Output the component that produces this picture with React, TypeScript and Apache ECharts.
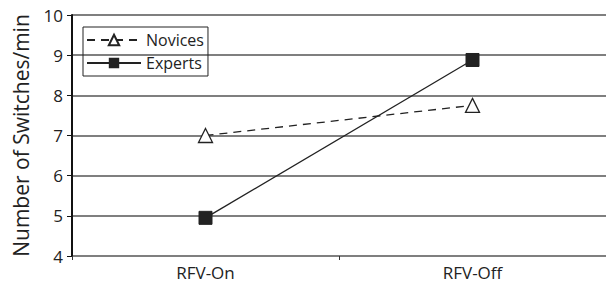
import React, { useEffect, useRef } from "react";
import * as echarts from "echarts";

const categories = ["RFV-On", "RFV-Off"];
const novices = [7.0, 7.75];
const experts = [4.95, 8.88];
const yTitle = "Number of Switches/min";

export default function App() {
  const ref = useRef<HTMLDivElement>(null);
  useEffect(() => {
    document.body.style.margin = "0";
    const chart = echarts.init(ref.current!, null, { renderer: "svg" });
    const font = "'Open Sans', 'Noto Sans', sans-serif";
    chart.setOption({
      animation: false,
      grid: { left: 72, right: -6, top: 15, bottom: 31 },
      legend: {
        orient: "vertical",
        left: 83,
        top: 27,
        itemWidth: 54,
        itemHeight: 13,
        itemGap: 7,
        padding: [5, 4, 5, 3],
        borderColor: "#222",
        borderWidth: 1,
        textStyle: { fontFamily: font, fontSize: 16, color: "#222" },
        data: ["Novices", "Experts"],
      },
      xAxis: {
        type: "category",
        data: categories,
        axisLine: { show: false },
        axisTick: { show: true, interval: 0, length: 4, lineStyle: { color: "#333" } },
        axisLabel: { fontFamily: font, fontSize: 17, color: "#222", margin: 8 },
      },
      yAxis: {
        type: "value",
        min: 4,
        max: 10,
        interval: 1,
        name: yTitle,
        nameLocation: "middle",
        nameGap: 41,
        nameTextStyle: { fontFamily: font, fontSize: 21, color: "#222" },
        axisLine: { show: true, lineStyle: { color: "#111", width: 2 } },
        axisTick: { show: true, length: 5, lineStyle: { color: "#111" } },
        axisLabel: { fontFamily: font, fontSize: 17, color: "#222", margin: 9 },
        splitLine: { lineStyle: { color: "#555", width: 1.5 } },
      },
      series: [
        {
          name: "Novices",
          type: "line",
          data: novices,
          symbol: "triangle",
          symbolSize: 14,
          lineStyle: { color: "#222", width: 1.3, type: [8, 6] },
          itemStyle: { color: "#fff", borderColor: "#222", borderWidth: 1.3 },
          z: 3,
        },
        {
          name: "Experts",
          type: "line",
          data: experts,
          symbol: "rect",
          symbolSize: 13,
          lineStyle: { color: "#222", width: 1.3 },
          itemStyle: { color: "#222", borderColor: "#222" },
          z: 4,
        },
      ],
    });
    return () => chart.dispose();
  }, []);
  return <div ref={ref} style={{ width: 606, height: 287 }} />;
}
